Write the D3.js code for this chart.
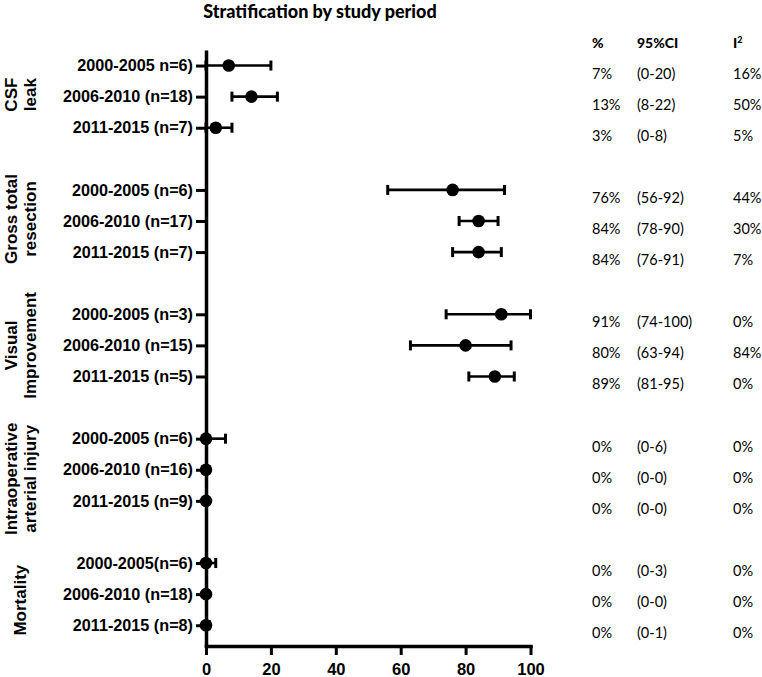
<!DOCTYPE html>
<html>
<head>
<meta charset="utf-8">
<script src="https://cdn.jsdelivr.net/npm/d3@7"></script>
<style>
  html, body { margin: 0; padding: 0; background: #fff; }
  svg { display: block; }
</style>
</head>
<body>
<script>
// ---------- DATA ----------
const title = "Stratification by study period";
const groupLines = [
  ["CSF", "leak"],
  ["Gross total", "resection"],
  ["Visual", "Improvement"],
  ["Intraoperative", "arterial injury"],
  ["Mortality"]
];
const rowLabels = [
  "2000-2005 n=6)", "2006-2010 (n=18)", "2011-2015 (n=7)",
  "2000-2005 (n=6)", "2006-2010 (n=17)", "2011-2015 (n=7)",
  "2000-2005 (n=3)", "2006-2010 (n=15)", "2011-2015 (n=5)",
  "2000-2005 (n=6)", "2006-2010 (n=16)", "2011-2015 (n=9)",
  "2000-2005(n=6)", "2006-2010 (n=18)", "2011-2015 (n=8)"
];
const estimate = [7, 14, 3, 76, 84, 84, 91, 80, 89, 0, 0, 0, 0, 0, 0];
const lower    = [0, 8, 0, 56, 78, 76, 74, 63, 81, 0, 0, 0, 0, 0, 0];
const upper    = [20, 22, 8, 92, 90, 91, 100, 94, 95, 6, 0, 0, 3, 0, 1];
const pctText = ["7%", "13%", "3%", "76%", "84%", "84%", "91%", "80%", "89%", "0%", "0%", "0%", "0%", "0%", "0%"];
const ciText  = ["(0-20)", "(8-22)", "(0-8)", "(56-92)", "(78-90)", "(76-91)", "(74-100)", "(63-94)", "(81-95)", "(0-6)", "(0-0)", "(0-0)", "(0-3)", "(0-0)", "(0-1)"];
const i2Text  = ["16%", "50%", "5%", "44%", "30%", "7%", "0%", "84%", "0%", "0%", "0%", "0%", "0%", "0%", "0%"];
const tableHeaders = ["%", "95%CI", "I"];
const xTicks = [0, 20, 40, 60, 80, 100];

// ---------- LAYOUT ----------
const W = 762, H = 677;
const svg = d3.select("body").append("svg").attr("width", W).attr("height", H);
const armFont = "'Liberation Sans', Arial, Helvetica, sans-serif";
const calFont = "Lato, 'Open Sans', sans-serif";
const groupLabelShift = [-2, -2, 0, 9, 6];   // layout tweak (px) of the rotated group labels

// slot index for each row (a blank slot between groups)
const slot = rowLabels.map((d, i) => i + Math.floor(i / 3));
const x = d3.scaleLinear().domain([0, 100]).range([206, 530.5]);
const y = d3.scaleLinear().domain([-0.5, 18.7]).range([50, 647]);
const axisY = 646;

// Title
svg.append("text")
  .attr("x", 320).attr("y", 18)
  .attr("text-anchor", "middle")
  .style("font-family", calFont).style("font-weight", 900).style("font-size", "18px")
  .text(title);

// X axis
const gx = svg.append("g").attr("transform", `translate(0,${axisY})`)
  .call(d3.axisBottom(x).tickValues(xTicks).tickSize(9).tickSizeOuter(0).tickPadding(8));
gx.select(".domain").attr("stroke-width", 3.5).attr("stroke", "#000").attr("stroke-linecap", "square");
gx.selectAll(".tick line").attr("stroke-width", 3).attr("stroke", "#000");
gx.selectAll(".tick text").style("font-family", armFont).style("font-weight", 700)
  .style("font-size", "16.5px").attr("fill", "#000");

// Y axis
const gy = svg.append("g").attr("transform", `translate(${x(0)},0)`)
  .call(d3.axisLeft(y).tickValues(slot).tickFormat((d, i) => rowLabels[i])
    .tickSize(10).tickSizeOuter(0).tickPadding(3));
gy.select(".domain").attr("stroke-width", 3.5).attr("stroke", "#000");
gy.selectAll(".tick line").attr("stroke-width", 3).attr("stroke", "#000");
gy.selectAll(".tick text").style("font-family", armFont).style("font-weight", 700)
  .style("font-size", "16.2px").attr("fill", "#000");

// Group labels (rotated)
groupLines.forEach((lines, g) => {
  const cy = y(g * 4 + 1) + groupLabelShift[g];
  const base = lines.length === 2 ? [17, 36] : [26];
  lines.forEach((ln, k) => {
    svg.append("text")
      .attr("transform", `translate(${base[k]},${cy}) rotate(-90)`)
      .attr("text-anchor", "middle")
      .style("font-family", armFont).style("font-weight", 700).style("font-size", "17px")
      .text(ln);
  });
});

// Error bars & points
const marks = svg.append("g");
rowLabels.forEach((d, i) => {
  const yy = y(slot[i]);
  if (upper[i] > lower[i]) {
    marks.append("line")
      .attr("x1", x(lower[i])).attr("x2", x(upper[i]))
      .attr("y1", yy).attr("y2", yy)
      .attr("stroke", "#000").attr("stroke-width", 2.6);
    [lower[i], upper[i]].forEach(v => {
      marks.append("line")
        .attr("x1", x(v)).attr("x2", x(v))
        .attr("y1", yy - 5).attr("y2", yy + 5)
        .attr("stroke", "#000").attr("stroke-width", 3);
    });
  }
  marks.append("circle")
    .attr("cx", x(estimate[i])).attr("cy", yy).attr("r", 6.3)
    .attr("fill", "#000");
});

// Table
const colX = [592, 637, 733];
const header = svg.append("g").style("font-family", calFont).style("font-weight", 900).style("font-size", "14px");
tableHeaders.forEach((h, k) => {
  const t = header.append("text").attr("x", colX[k]).attr("y", 48).text(h);
  if (k === 2) t.append("tspan").attr("dy", -5).style("font-size", "9px").text("2");
});
const tbl = svg.append("g").style("font-family", calFont).style("font-size", "14.5px").attr("fill", "#000");
rowLabels.forEach((d, i) => {
  const yy = y(slot[i]) + 13;
  [pctText[i], ciText[i], i2Text[i]].forEach((t, k) => {
    tbl.append("text").attr("x", colX[k]).attr("y", yy).text(t);
  });
});
</script>
</body>
</html>
